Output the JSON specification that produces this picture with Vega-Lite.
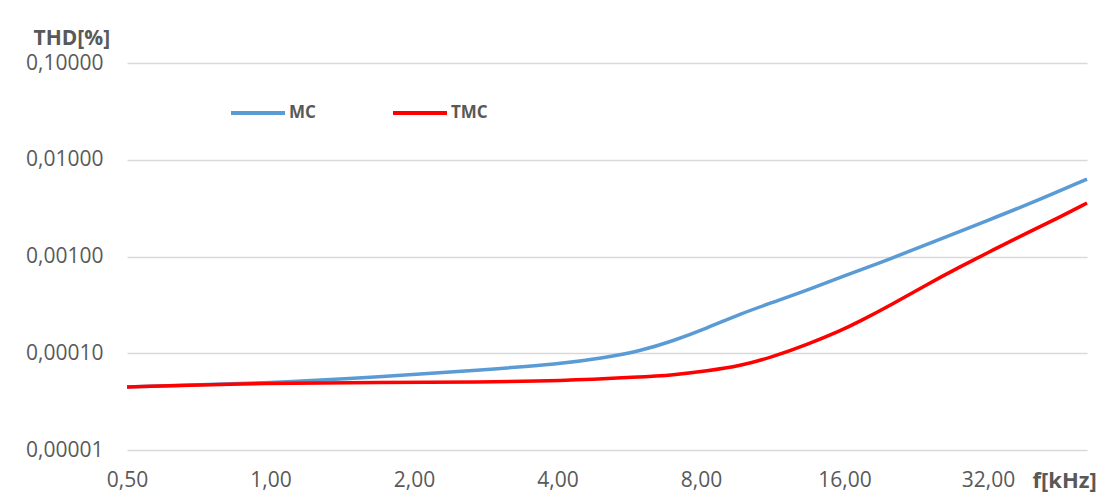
{
  "$schema": "https://vega.github.io/schema/vega-lite/v6.json",
  "width": 960,
  "height": 387,
  "autosize": "none",
  "padding": {"left": 127, "top": 63, "right": 31, "bottom": 43},
  "background": "white",
  "config": {
    "locale": {"number": {"decimal": ",", "thousands": ".", "grouping": [3], "currency": ["", " €"]}},
    "view": {"stroke": null},
    "font": "Open Sans"
  },
  "data": {
    "values": [
      {"f": 0.5, "s": "MC", "thd": 0.0000448},
      {"f": 1.0, "s": "MC", "thd": 0.0000493},
      {"f": 1.7, "s": "MC", "thd": 0.0000568},
      {"f": 2.75, "s": "MC", "thd": 0.0000671},
      {"f": 4.05, "s": "MC", "thd": 0.0000774},
      {"f": 5.0, "s": "MC", "thd": 0.0000895},
      {"f": 5.96, "s": "MC", "thd": 0.0001056},
      {"f": 6.99, "s": "MC", "thd": 0.000134},
      {"f": 8.24, "s": "MC", "thd": 0.000182},
      {"f": 9.66, "s": "MC", "thd": 0.000255},
      {"f": 11.3, "s": "MC", "thd": 0.000335},
      {"f": 13.35, "s": "MC", "thd": 0.000448},
      {"f": 15.66, "s": "MC", "thd": 0.000607},
      {"f": 20.0, "s": "MC", "thd": 0.000949},
      {"f": 25.0, "s": "MC", "thd": 0.001467},
      {"f": 32.0, "s": "MC", "thd": 0.00237},
      {"f": 40.0, "s": "MC", "thd": 0.00367},
      {"f": 51.6, "s": "MC", "thd": 0.00632},
      {"f": 0.5, "s": "TMC", "thd": 0.0000448},
      {"f": 1.0, "s": "TMC", "thd": 0.0000493},
      {"f": 1.7, "s": "TMC", "thd": 0.0000498},
      {"f": 2.75, "s": "TMC", "thd": 0.0000505},
      {"f": 4.05, "s": "TMC", "thd": 0.0000517},
      {"f": 5.96, "s": "TMC", "thd": 0.0000568},
      {"f": 6.99, "s": "TMC", "thd": 0.0000596},
      {"f": 8.24, "s": "TMC", "thd": 0.0000656},
      {"f": 9.66, "s": "TMC", "thd": 0.0000738},
      {"f": 11.3, "s": "TMC", "thd": 0.0000915},
      {"f": 13.35, "s": "TMC", "thd": 0.000123},
      {"f": 15.66, "s": "TMC", "thd": 0.00017},
      {"f": 17.2, "s": "TMC", "thd": 0.000213},
      {"f": 20.2, "s": "TMC", "thd": 0.000323},
      {"f": 23.7, "s": "TMC", "thd": 0.000507},
      {"f": 27.9, "s": "TMC", "thd": 0.000779},
      {"f": 32.8, "s": "TMC", "thd": 0.00117},
      {"f": 38.6, "s": "TMC", "thd": 0.00175},
      {"f": 45.3, "s": "TMC", "thd": 0.00256},
      {"f": 51.6, "s": "TMC", "thd": 0.00357}
    ]
  },
  "mark": {"type": "line", "strokeWidth": 3.5, "interpolate": "basis"},
  "encoding": {
    "x": {
      "field": "f",
      "type": "quantitative",
      "scale": {"type": "log", "base": 2, "domain": [0.5, 51.6], "nice": false},
      "axis": {
        "values": [0.5, 1, 2, 4, 8, 16, 32],
        "format": ".2f",
        "grid": false,
        "domain": false,
        "ticks": false,
        "labelFontSize": 21,
        "labelColor": "#595959",
        "labelPadding": 19,
        "labelFlush": false,
        "title": "f[kHz]",
        "titleFontSize": 22,
        "titleFontWeight": "bold",
        "titleColor": "#595959",
        "titleAlign": "left",
        "titleBaseline": "alphabetic",
        "titleX": 905,
        "titleY": 37
      }
    },
    "y": {
      "field": "thd",
      "type": "quantitative",
      "scale": {"type": "log", "domain": [0.00001, 0.1], "nice": false},
      "axis": {
        "values": [0.00001, 0.0001, 0.001, 0.01, 0.1],
        "format": ".5f",
        "grid": true,
        "gridColor": "#d9d9d9",
        "gridWidth": 1.5,
        "domain": false,
        "ticks": false,
        "labelFontSize": 21,
        "labelColor": "#595959",
        "labelPadding": 24,
        "labelFlush": false,
        "title": "THD[%]",
        "titleFontSize": 21,
        "titleFontWeight": "bold",
        "titleColor": "#595959",
        "titleAngle": 0,
        "titleAlign": "left",
        "titleBaseline": "alphabetic",
        "titleX": -94,
        "titleY": -19
      }
    },
    "color": {
      "field": "s",
      "type": "nominal",
      "scale": {"domain": ["MC", "TMC"], "range": ["#5B9BD5", "#FF0000"]},
      "legend": {
        "title": null,
        "orient": "none",
        "direction": "horizontal",
        "legendX": 102,
        "legendY": 21,
        "symbolType": "stroke",
        "symbolSize": 2916,
        "symbolStrokeWidth": 4,
        "labelFontSize": 17,
        "labelFontWeight": "bold",
        "labelColor": "#595959",
        "labelOffset": 2,
        "columnPadding": 69
      }
    }
  }
}
